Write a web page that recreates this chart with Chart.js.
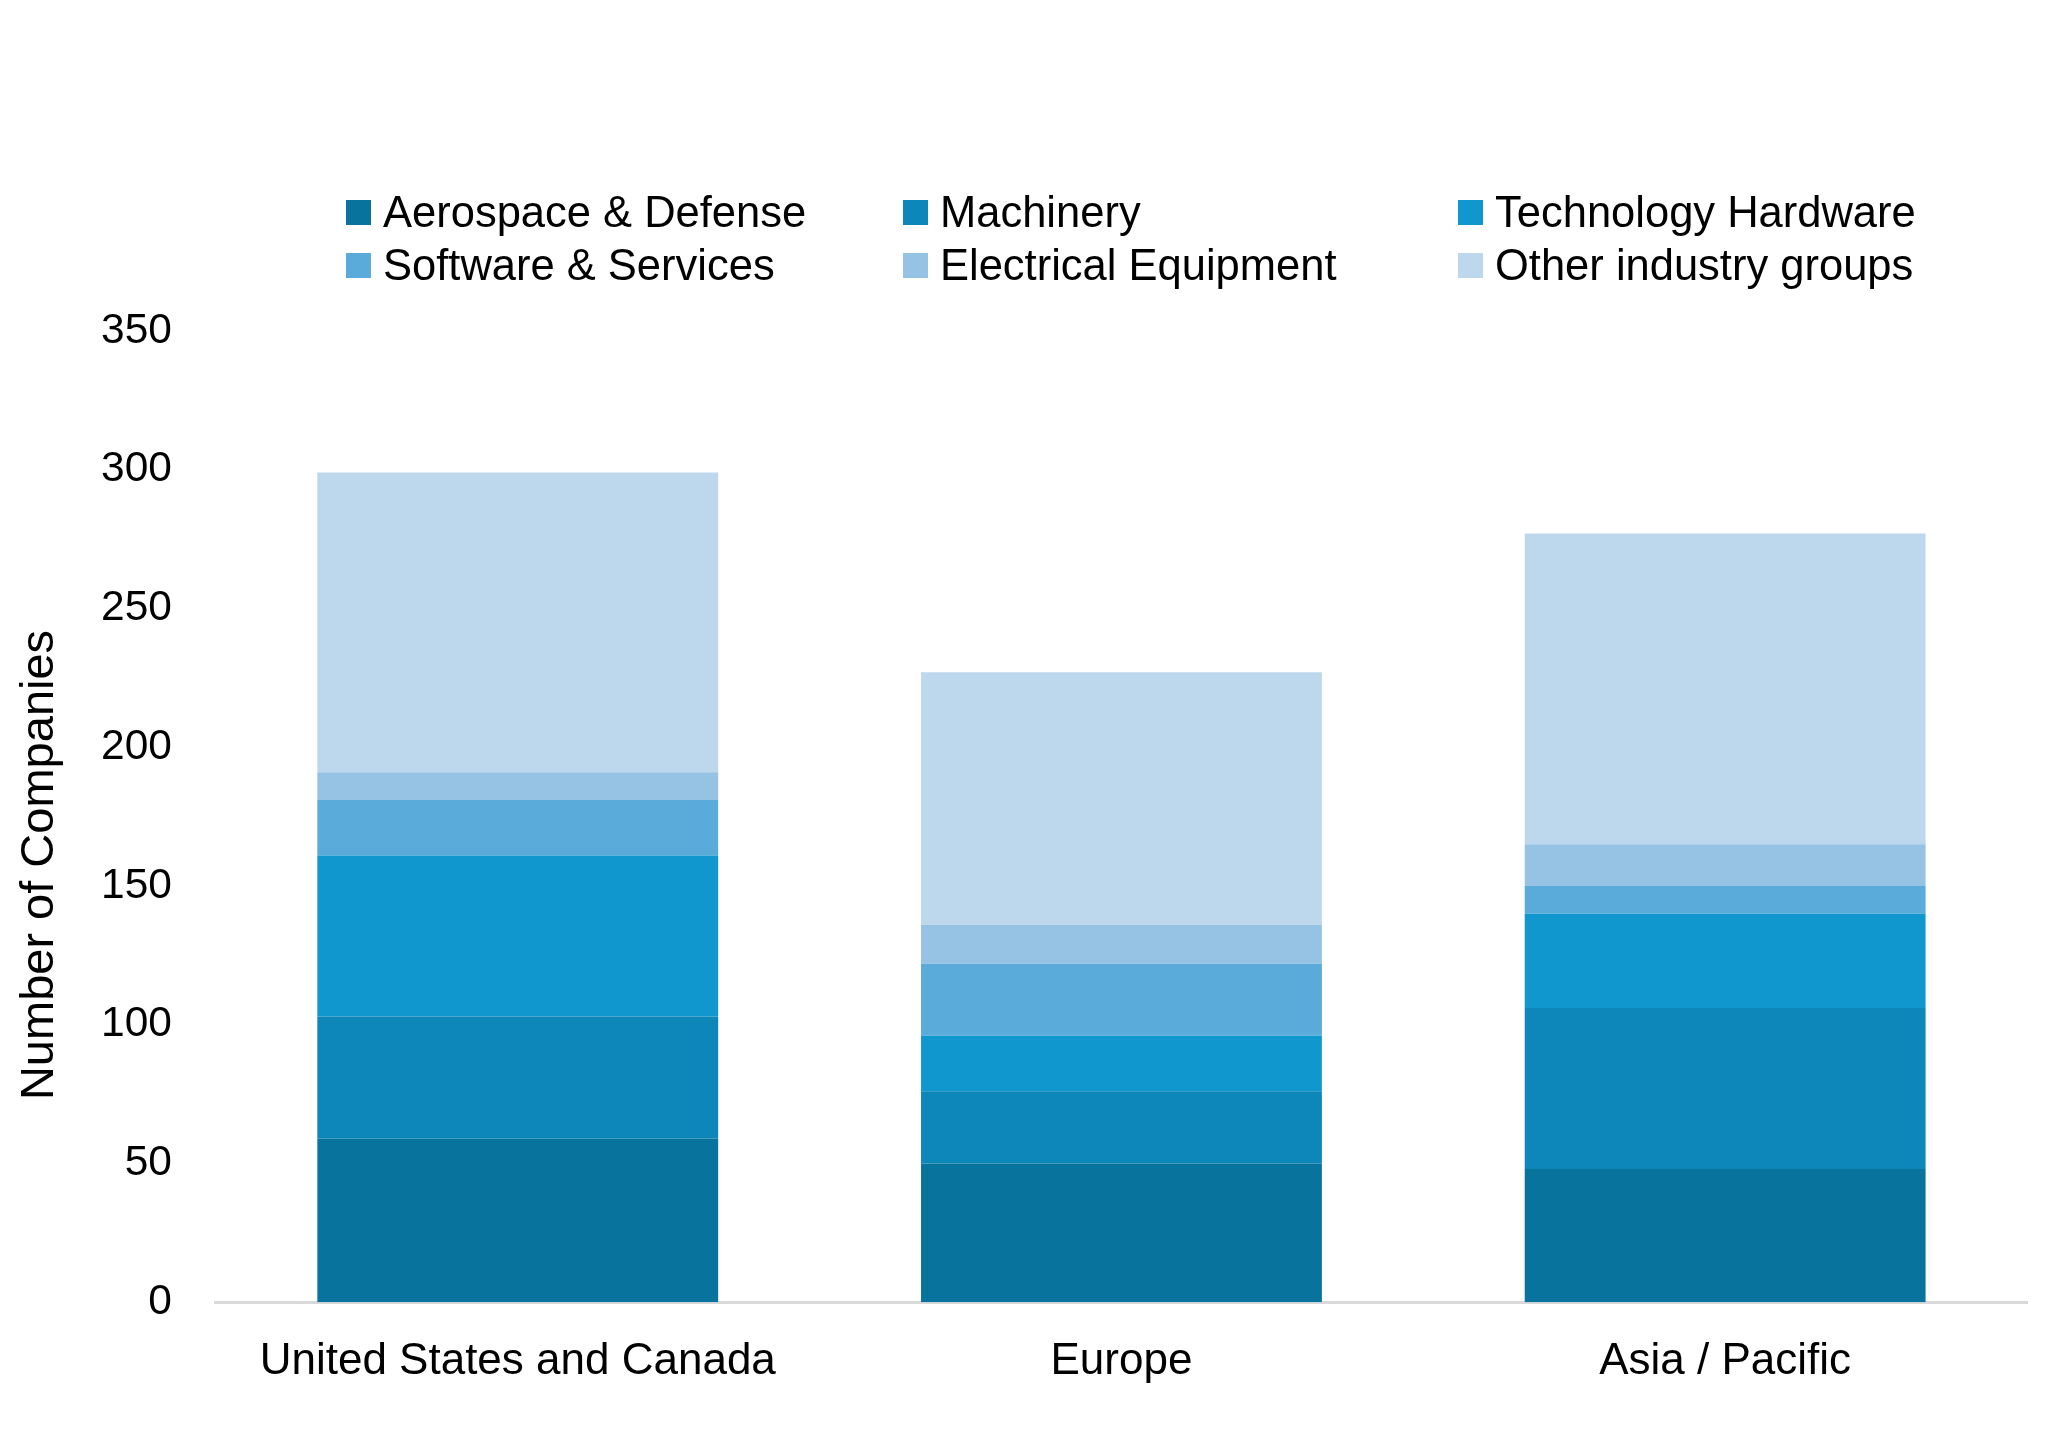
<!DOCTYPE html>
<html>
<head>
<meta charset="utf-8">
<script src="https://cdn.jsdelivr.net/npm/chart.js@4"></script>
<style>
  html, body { margin: 0; padding: 0; background: #fff; }
  #wrap { position: relative; width: 2068px; height: 1435px; }
  #legend { position: absolute; left: 0; top: 0; width: 2068px; height: 300px; font-family: "Liberation Sans", Arial, sans-serif; font-size: 43.5px; color: #000; }
  .item { position: absolute; display: flex; align-items: center; white-space: nowrap; }
  .box { width: 25px; height: 25px; margin-right: 12px; }
</style>
</head>
<body>
<div id="wrap">
  <canvas id="myChart" width="2068" height="1435"></canvas>
  <div id="legend"></div>
</div>
<script>
// categories and series
let regions = ["United States and Canada", "Europe", "Asia / Pacific"];
let seriesNames = ["Aerospace & Defense", "Machinery", "Technology Hardware",
                   "Software & Services", "Electrical Equipment", "Other industry groups"];
let aerospace = [59, 50, 48];
let machinery = [44, 26, 58];
let techHardware = [58, 20, 34];
let software = [20, 26, 10];
let electrical = [10, 14, 15];
let other = [108, 91, 112];
let yTicks = [0, 50, 100, 150, 200, 250, 300, 350];
let yTitle = "Number of Companies";

let seriesValues = [aerospace, machinery, techHardware, software, electrical, other];
let colors = ["#08739D", "#0D87B9", "#1098CE", "#5BABDA", "#96C2E4", "#BDD7EC"];

let font = "'Liberation Sans', Arial, sans-serif";

let datasets = [];
for (let i = 0; i < seriesNames.length; i++) {
  datasets.push({
    label: seriesNames[i],
    data: seriesValues[i],
    backgroundColor: colors[i],
    borderWidth: 0,
    barPercentage: 1,
    categoryPercentage: 0.664
  });
}

// y axis title sits a bit below the middle, so draw it by hand
let yTitlePlugin = {
  id: "yTitle",
  afterDraw: function(chart) {
    let ctx = chart.ctx;
    ctx.save();
    ctx.translate(40, 865);
    ctx.rotate(-Math.PI / 2);
    ctx.font = "47px " + font;
    ctx.fillStyle = "#000";
    ctx.textAlign = "center";
    ctx.textBaseline = "middle";
    ctx.fillText(yTitle, 0, 0);
    ctx.restore();
  }
};

new Chart("myChart", {
  type: "bar",
  data: { labels: regions, datasets: datasets },
  options: {
    responsive: false,
    animation: false,
    layout: { padding: { top: 331, left: 65, right: 41, bottom: 22 } },
    plugins: {
      legend: { display: false },
      tooltip: { enabled: false }
    },
    scales: {
      x: {
        stacked: true,
        grid: { display: false },
        border: { color: "#d9d9d9", width: 3 },
        ticks: { color: "#000", font: { family: font, size: 44 }, padding: 25 }
      },
      y: {
        stacked: true,
        min: 0,
        max: 350,
        afterBuildTicks: function(axis) {
          axis.ticks = yTicks.map(function(v) { return { value: v }; });
        },
        grid: { display: false },
        border: { display: false },
        ticks: { color: "#000", font: { family: font, size: 42.5 }, padding: 36 }
      }
    }
  },
  plugins: [yTitlePlugin]
});

// legend in three columns, two rows
let legendX = [346, 903, 1458];
let legendY = [212, 265];
let legend = document.getElementById("legend");
for (let i = 0; i < seriesNames.length; i++) {
  let item = document.createElement("div");
  item.className = "item";
  item.style.left = legendX[i % 3] + "px";
  item.style.top = (legendY[Math.floor(i / 3)] - 25) + "px";
  item.style.height = "50px";
  let box = document.createElement("span");
  box.className = "box";
  box.style.background = colors[i];
  let txt = document.createElement("span");
  txt.textContent = seriesNames[i];
  item.appendChild(box);
  item.appendChild(txt);
  legend.appendChild(item);
}
</script>
</body>
</html>
